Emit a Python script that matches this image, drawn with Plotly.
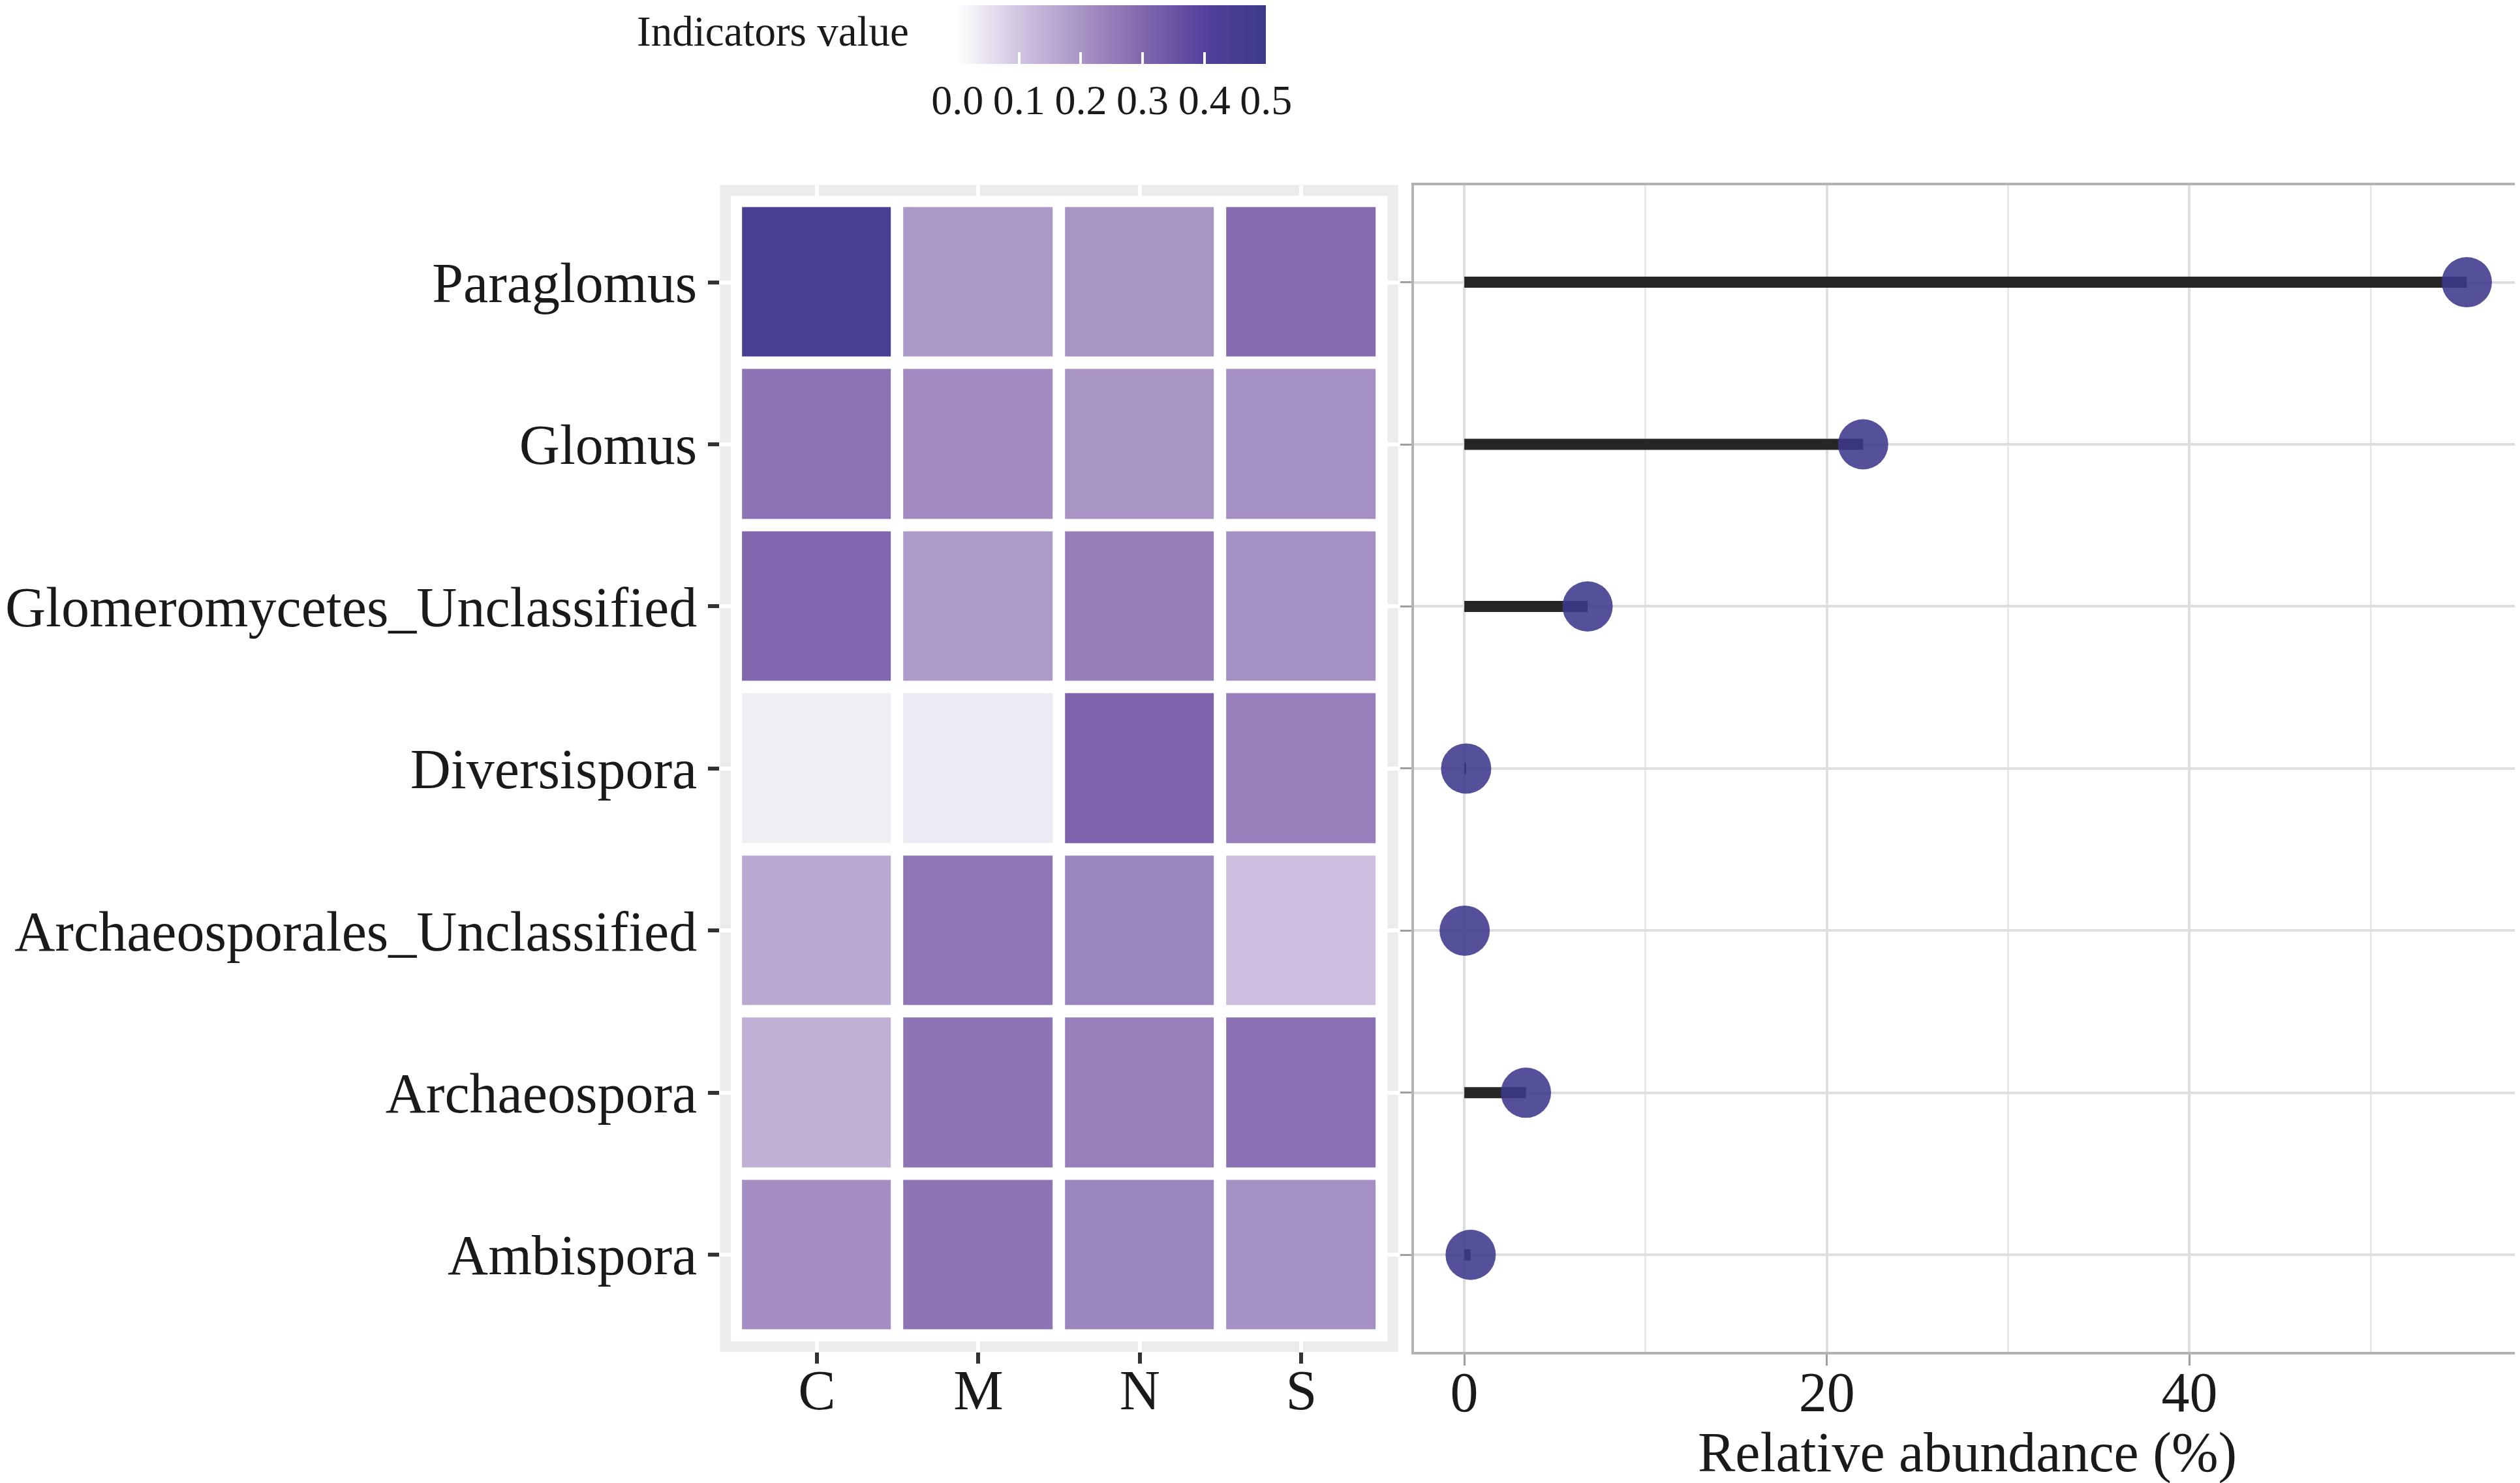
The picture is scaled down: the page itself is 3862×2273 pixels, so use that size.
import plotly.graph_objects as go

# genera (top to bottom) and groups
genera = ["Paraglomus", "Glomus", "Glomeromycetes_Unclassified", "Diversispora",
          "Archaeosporales_Unclassified", "Archaeospora", "Ambispora"]
groups = ["C", "M", "N", "S"]

# indicator values
C_vals = [0.45, 0.275, 0.30, 0.03, 0.16, 0.14, 0.215]
M_vals = [0.19, 0.22, 0.185, 0.035, 0.265, 0.27, 0.27]
N_vals = [0.20, 0.20, 0.25, 0.31, 0.235, 0.245, 0.235]
S_vals = [0.29, 0.21, 0.21, 0.245, 0.11, 0.28, 0.21]

# relative abundance (%)
abundance = [55.3, 22.0, 6.8, 0.1, 0.02, 3.4, 0.35]

cbar_ticks = [0.0, 0.1, 0.2, 0.3, 0.4, 0.5]
x2_ticks = [0, 20, 40]

W, H = 3862, 2273
FONT = "Liberation Serif"
TXT = "#1a1a1a"

group_vals = [C_vals, M_vals, N_vals, S_vals]
z = [[group_vals[j][i] for j in range(len(groups))] for i in range(len(genera))]

scale = [[0.0, "#FFFFFF"], [0.2, "#D1C5E1"], [0.4, "#A994C6"],
         [0.6, "#8168AE"], [0.8, "#54419B"], [1.0, "#3C3A88"]]

fig = go.Figure()

fig.add_trace(go.Heatmap(
    x=groups, y=genera, z=z, zmin=0, zmax=0.5,
    colorscale=scale, xgap=19, ygap=19,
    hoverongaps=False,
    colorbar=dict(
        orientation="h", lenmode="pixels", len=473, thickness=90,
        x=1458 / W, xanchor="left", y=1 + 4 / H, yanchor="top",
        xpad=0, ypad=0, outlinewidth=0, borderwidth=0,
        tickvals=cbar_ticks, ticktext=["%.1f" % t for t in cbar_ticks],
        ticks="inside", ticklen=18, tickwidth=4, tickcolor="white",
        tickfont=dict(family=FONT, size=64, color=TXT),
    ),
))

# segments from 0 to value
seg_x, seg_y = [], []
for g, v in zip(genera, abundance):
    seg_x += [0, v, None]
    seg_y += [g, g, None]
fig.add_trace(go.Scatter(
    x=seg_x, y=seg_y, mode="lines", xaxis="x2", yaxis="y2",
    line=dict(color="#262626", width=17), showlegend=False, hoverinfo="skip",
))
fig.add_trace(go.Scatter(
    x=abundance, y=genera, mode="markers", xaxis="x2", yaxis="y2",
    marker=dict(size=77, color="rgba(62,56,140,0.88)", line=dict(width=0)),
    showlegend=False,
))

n_g = len(groups)
n_r = len(genera)
pad = 0.033

fig.update_layout(
    width=W, height=H,
    margin=dict(l=0, r=0, t=0, b=0),
    paper_bgcolor="white", plot_bgcolor="white",
    font=dict(family=FONT, color=TXT),
    showlegend=False,
    xaxis=dict(
        domain=[1094 / W, 2134 / W], anchor="y",
        type="category", range=[-0.6, n_g - 0.4],
        showgrid=True, gridcolor="white", gridwidth=6, zeroline=False,
        showline=False, ticks="outside", ticklen=17, tickwidth=6, tickcolor="#333333",
        ticklabelstandoff=-34,
        tickfont=dict(family=FONT, size=86, color=TXT),
    ),
    yaxis=dict(
        domain=[1 - 2064 / H, 1 - 272 / H], anchor="x",
        type="category", categoryorder="array", categoryarray=genera[::-1],
        range=[-0.6, n_r - 0.4],
        showgrid=True, gridcolor="white", gridwidth=6, zeroline=False,
        showline=False, ticks="outside", ticklen=17, tickwidth=6, tickcolor="#333333",
        tickfont=dict(family=FONT, size=86, color=TXT),
    ),
    xaxis2=dict(
        domain=[2158 / W, 3855 / W], anchor="y2",
        range=[-2.78, 58.27],
        tickvals=x2_ticks,
        showgrid=True, gridcolor="#dedede", gridwidth=4, zeroline=False,
        minor=dict(dtick=10, tick0=0, showgrid=True, gridcolor="#e8e8e8", gridwidth=2.5, ticks=""),
        showline=True, mirror=True, linecolor="#b3b3b3", linewidth=4,
        ticks="outside", ticklen=17, tickwidth=3, tickcolor="#a0a0a0",
        ticklabelstandoff=-34,
        tickfont=dict(family=FONT, size=86, color=TXT),
    ),
    yaxis2=dict(
        domain=[1 - 2064 / H, 1 - 272 / H], anchor="x2",
        type="category", categoryorder="array", categoryarray=genera[::-1],
        range=[-0.6, n_r - 0.4],
        showgrid=True, gridcolor="#dedede", gridwidth=4, zeroline=False,
        showline=True, mirror=True, linecolor="#b3b3b3", linewidth=4,
        ticks="outside", ticklen=17, tickwidth=3, tickcolor="#a0a0a0",
        showticklabels=False,
    ),
    shapes=[
        dict(type="rect", xref="x domain", yref="y domain", x0=0, x1=1, y0=0, y1=1,
             fillcolor="#ECECEC", line=dict(width=0), layer="below"),
        dict(type="rect", xref="x", yref="y", x0=-0.5 - pad, x1=n_g - 0.5 + pad,
             y0=-0.5 - pad, y1=n_r - 0.5 + pad,
             fillcolor="white", line=dict(width=0), layer="between"),
    ],
    annotations=[
        dict(text="Indicators value", xref="paper", yref="paper",
             x=1386 / W, y=1 - 36 / H, xanchor="right", yanchor="middle",
             showarrow=False, font=dict(family=FONT, size=65, color=TXT)),
        dict(text="Relative abundance (%)", xref="x2 domain", yref="paper",
             x=0.5, y=1 - 2218 / H, xanchor="center", yanchor="middle",
             showarrow=False, font=dict(family=FONT, size=86, color=TXT)),
    ],
)

fig.write_html("out.html")
